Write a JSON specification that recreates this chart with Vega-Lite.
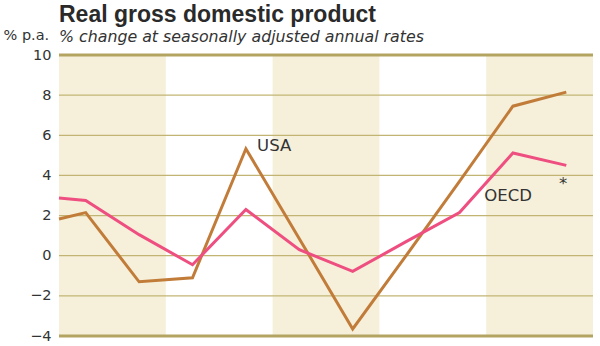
{
  "$schema": "https://vega.github.io/schema/vega-lite/v6.json",
  "width": 534,
  "height": 281,
  "autosize": {"type": "none"},
  "padding": {"left": 59, "top": 55, "right": 7, "bottom": 10},
  "background": "white",
  "config": {"view": {"stroke": null}, "font": "DejaVu Sans"},
  "title": {
    "text": "Real gross domestic product",
    "subtitle": "% change at seasonally adjusted annual rates",
    "anchor": "start",
    "frame": "group",
    "font": "Liberation Sans",
    "fontSize": 23,
    "fontWeight": "bold",
    "color": "#2a2a2a",
    "subtitleFont": "DejaVu Sans",
    "subtitleFontSize": 15.8,
    "subtitleFontStyle": "italic",
    "subtitleColor": "#333333",
    "subtitlePadding": 3,
    "offset": -17
  },
  "datasets": {
    "bands": [
      {"start": 0, "end": 2},
      {"start": 4, "end": 6},
      {"start": 8, "end": 10}
    ],
    "grid": [
      {"level": -2}, {"level": 0}, {"level": 2}, {"level": 4}, {"level": 6}, {"level": 8}
    ],
    "frame": [
      {"level": -4}, {"level": 10}
    ],
    "gdp": [
      {"t": 0, "series": "USA", "value": 1.83},
      {"t": 0.5, "series": "USA", "value": 2.15},
      {"t": 1.5, "series": "USA", "value": -1.3},
      {"t": 2.5, "series": "USA", "value": -1.1},
      {"t": 3.5, "series": "USA", "value": 5.33},
      {"t": 4.5, "series": "USA", "value": 0.85},
      {"t": 5.5, "series": "USA", "value": -3.65},
      {"t": 6.5, "series": "USA", "value": 0.0},
      {"t": 7.5, "series": "USA", "value": 3.7},
      {"t": 8.5, "series": "USA", "value": 7.45},
      {"t": 9.5, "series": "USA", "value": 8.15},
      {"t": 0, "series": "OECD", "value": 2.87},
      {"t": 0.5, "series": "OECD", "value": 2.75},
      {"t": 1.5, "series": "OECD", "value": 1.05},
      {"t": 2.5, "series": "OECD", "value": -0.45},
      {"t": 3.5, "series": "OECD", "value": 2.3},
      {"t": 4.5, "series": "OECD", "value": 0.3},
      {"t": 5.5, "series": "OECD", "value": -0.78},
      {"t": 6.5, "series": "OECD", "value": 0.7},
      {"t": 7.5, "series": "OECD", "value": 2.15},
      {"t": 8.5, "series": "OECD", "value": 5.12},
      {"t": 9.5, "series": "OECD", "value": 4.5}
    ],
    "labels": [
      {"label": "USA", "t": 4.03, "value": 5.48},
      {"label": "OECD", "t": 8.41, "value": 3.0},
      {"label": "*", "t": 9.44, "value": 3.55}
    ]
  },
  "layer": [
    {
      "data": {"name": "bands"},
      "mark": {"type": "rect", "color": "#f6f0da"},
      "encoding": {
        "x": {"field": "start", "type": "quantitative", "scale": {"domain": [0, 10], "nice": false, "zero": false}, "axis": null},
        "x2": {"field": "end"}
      }
    },
    {
      "data": {"name": "grid"},
      "mark": {"type": "rule", "color": "#c2b574", "strokeWidth": 1.2},
      "encoding": {
        "y": {
          "field": "level",
          "type": "quantitative",
          "scale": {"domain": [-4, 10], "nice": false},
          "axis": {
            "values": [-4, -2, 0, 2, 4, 6, 8, 10],
            "grid": false,
            "ticks": false,
            "domain": false,
            "labelFont": "DejaVu Sans",
            "labelFontSize": 14.5,
            "labelColor": "#333333",
            "labelPadding": 8,
            "title": "% p.a.",
            "titleFont": "DejaVu Sans",
            "titleAngle": 0,
            "titleX": -56,
            "titleY": -15.5,
            "titleAlign": "left",
            "titleBaseline": "alphabetic",
            "titleFontWeight": "normal",
            "titleFontSize": 14.5,
            "titleColor": "#333333"
          }
        }
      }
    },
    {
      "data": {"name": "frame"},
      "mark": {"type": "rule", "color": "#b3a462", "strokeWidth": 3},
      "encoding": {
        "y": {"field": "level", "type": "quantitative"}
      }
    },
    {
      "data": {"name": "gdp"},
      "mark": {"type": "line", "strokeWidth": 3, "strokeJoin": "miter"},
      "encoding": {
        "x": {"field": "t", "type": "quantitative"},
        "y": {"field": "value", "type": "quantitative"},
        "color": {
          "field": "series",
          "type": "nominal",
          "scale": {"domain": ["USA", "OECD"], "range": ["#c27c3a", "#ee4f80"]},
          "legend": null
        }
      }
    },
    {
      "data": {"name": "labels"},
      "mark": {"type": "text", "font": "DejaVu Sans", "fontSize": 16.5, "color": "#333333", "align": "center", "baseline": "middle"},
      "encoding": {
        "x": {"field": "t", "type": "quantitative"},
        "y": {"field": "value", "type": "quantitative"},
        "text": {"field": "label"}
      }
    }
  ]
}
